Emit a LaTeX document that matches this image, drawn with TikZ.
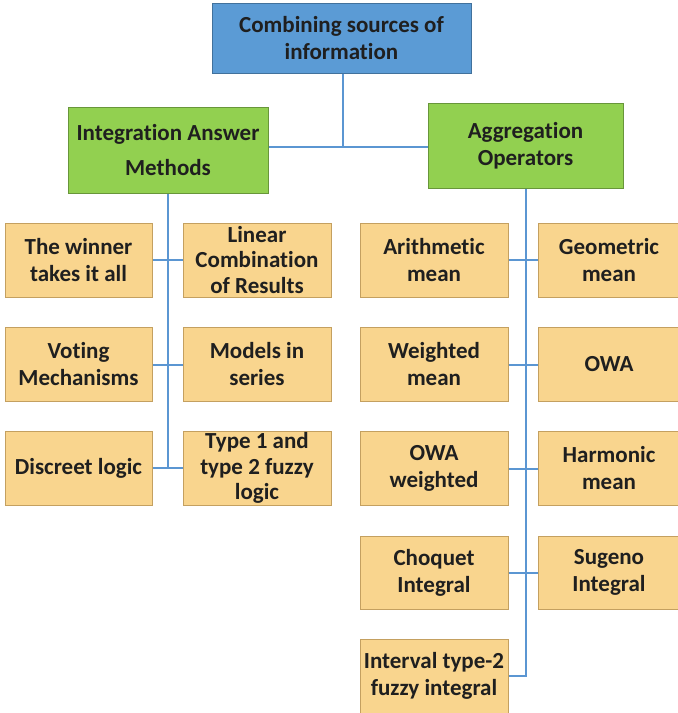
\documentclass[tikz,border=0pt]{standalone}
\usepackage{fontspec}
\setmainfont[Ligatures=NoCommon]{Carlito}
\usepackage{tikz}
\usetikzlibrary{positioning}
\definecolor{rootcol}{RGB}{91,155,213}
\definecolor{rootline}{RGB}{65,113,156}
\definecolor{groupcol}{RGB}{146,208,80}
\definecolor{groupline}{RGB}{104,150,58}
\definecolor{leafcol}{RGB}{249,213,142}
\definecolor{leafline}{RGB}{196,160,96}
\definecolor{linkcol}{RGB}{91,150,210}
\tikzset{
  bx/.style={rectangle,draw,line width=1pt,align=center,inner sep=1pt,text=black!88,
    font=\fontsize{23}{27}\selectfont\bfseries},
  tight/.style={font=\fontsize{23}{25.5}\selectfont\bfseries},
  root/.style={bx,fill=rootcol,draw=rootline,minimum width=259pt,minimum height=70pt},
  grp/.style={bx,fill=groupcol,draw=groupline,minimum height=86pt},
  leaf/.style={bx,fill=leafcol,draw=leafline,minimum height=74pt},
  link/.style={-,draw=linkcol,line width=2pt}
}
\begin{document}
\begin{tikzpicture}[x=1pt,y=-1pt]
  \useasboundingbox (0,0) rectangle (678,713);
  \node[root] (top) at (341.5,38){Combining sources of\\information};
  \node[grp,minimum width=200pt,font=\fontsize{23}{35}\selectfont\bfseries] (ia) at (168,150){Integration Answer\\Methods};
  \node[grp,minimum width=195pt,minimum height=85pt] (ao) at (525.5,145.5){Aggregation\\Operators};
  % integration answer methods
  \node[leaf,minimum width=147pt] (w) at (78.5,260){The winner\\takes it all};
  \node[leaf,tight,minimum width=148pt] (lc) at (257,260){Linear\\Combination\\of Results};
  \node[leaf,minimum width=147pt] (vm) at (78.5,364.5){Voting\\Mechanisms};
  \node[leaf,minimum width=148pt] (ms) at (257,364.5){Models in\\series};
  \node[leaf,minimum width=147pt] (dl) at (78.5,468){Discreet logic};
  \node[leaf,tight,minimum width=148pt] (fl) at (257,468){Type 1 and\\type 2 fuzzy\\logic};
  % aggregation operators
  \node[leaf,minimum width=148pt] (am) at (434,260){Arithmetic\\mean};
  \node[leaf,minimum width=142pt] (gm) at (609,260){Geometric\\mean};
  \node[leaf,minimum width=148pt] (wm) at (434,364.5){Weighted\\mean};
  \node[leaf,minimum width=142pt] (owa) at (609,364.5){OWA};
  \node[leaf,minimum width=148pt] (ow) at (434,468.5){OWA\\weighted};
  \node[leaf,minimum width=142pt] (hm) at (609,468.5){Harmonic\\mean};
  \node[leaf,minimum width=148pt,minimum height=73pt] (ci) at (434,572.5){Choquet\\Integral};
  \node[leaf,minimum width=142pt,minimum height=73pt] (si) at (609,572.5){Sugeno\\Integral};
  \node[leaf,minimum width=148pt] (it) at (434,676){Interval type-2\\fuzzy integral};
  % connectors
  \coordinate (hub) at (343,147);
  \draw[link] (top.south-|hub) -- (hub);
  \draw[link] (ia.east|-hub) -- (ao.west|-hub);
  \draw[link] (ia.south) -- (ia.south|-dl.east);
  \draw[link] (ao.south) -- (ao.south|-it.east) -- (it.east);
  \foreach \a/\b in {w/lc,vm/ms,dl/fl,am/gm,wm/owa,ow/hm,ci/si}{\draw[link](\a.east)--(\b.west);}
\end{tikzpicture}
\end{document}
